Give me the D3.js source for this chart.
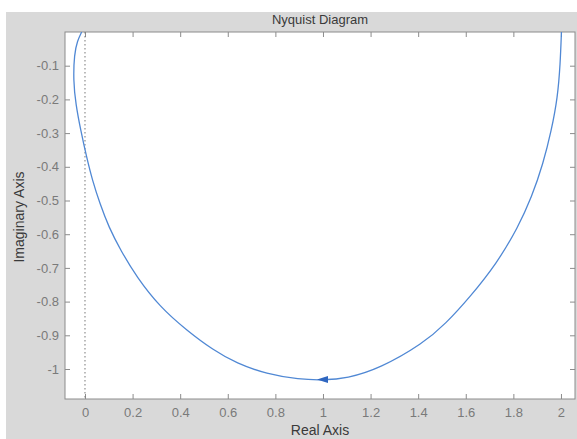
<!DOCTYPE html>
<html lang="en">

<head>
    <meta charset="utf-8">
    <title>Nyquist Diagram</title>
    <script src="https://cdn.jsdelivr.net/npm/d3@7/dist/d3.min.js"></script>
    <style>
        body {
            margin: 0;
            background: #fff;
        }

        text {
            font-family: "Liberation Sans", Arial, sans-serif;
        }
    </style>
</head>

<body>
    <div id="chart"></div>

    <script type="text/javascript">
        // curve, from (2, 0) round the bottom to the left side
        var realPart = [2.002, 1.997, 1.986, 1.96, 1.925, 1.877, 1.82, 1.73, 1.618, 1.515, 1.421, 1.24, 1.10, 1.0,
            0.9, 0.763, 0.637, 0.539, 0.427, 0.315, 0.217, 0.15, 0.1, 0.063, 0.031, 0.007, -0.018, -0.039,
            -0.049, -0.045, -0.032, -0.014];
        var imagPart = [0, -0.095, -0.194, -0.292, -0.391, -0.49, -0.579, -0.687, -0.786, -0.866, -0.924, -0.998,
            -1.028, -1.033, -1.031, -1.015, -0.983, -0.944, -0.885, -0.816, -0.727, -0.648, -0.579, -0.51,
            -0.44, -0.372, -0.292, -0.213, -0.144, -0.065, -0.026, 0];

        var xTicks = [0, 0.2, 0.4, 0.6, 0.8, 1, 1.2, 1.4, 1.6, 1.8, 2];
        var yTicks = [-0.1, -0.2, -0.3, -0.4, -0.5, -0.6, -0.7, -0.8, -0.9, -1];
        var arrowAt = [1.0, -1.031];

        var width = 577, height = 439;
        var plotLeft = 65, plotRight = 575, plotTop = 32, plotBottom = 399;
        var axisColor = '#8c8c8c';
        var labelColor = '#7a7a7a';
        var lineColor = '#5088d4';

        var svg = d3.select('#chart')
            .append('svg')
            .attr('width', width)
            .attr('height', height);

        // grey figure background
        svg.append('rect')
            .attr('x', 6).attr('y', 12)
            .attr('width', width - 6).attr('height', height - 12)
            .attr('fill', '#d9d9d9');

        svg.append('rect')
            .attr('x', plotLeft).attr('y', plotTop)
            .attr('width', plotRight - plotLeft).attr('height', plotBottom - plotTop)
            .attr('fill', '#fff');

        var xScale = d3.scaleLinear()
            .domain([-0.084, 2.059])
            .range([plotLeft, plotRight]);
        var yScale = d3.scaleLinear()
            .domain([-1.089, 0])
            .range([plotBottom, plotTop]);

        var fmt = function (d) { return String(d); };

        function styleAxis(g) {
            g.select('.domain').remove();
            g.selectAll('.tick line').attr('stroke', axisColor);
            g.selectAll('.tick text')
                .attr('fill', labelColor)
                .style('font-size', '13px');
        }

        svg.append('g')
            .attr('transform', 'translate(0,' + plotBottom + ')')
            .call(d3.axisBottom(xScale).tickValues(xTicks).tickSizeInner(-5).tickSizeOuter(0).tickPadding(9).tickFormat(fmt))
            .call(styleAxis);
        svg.append('g')
            .attr('transform', 'translate(0,' + plotTop + ')')
            .call(d3.axisTop(xScale).tickValues(xTicks).tickSizeInner(-5).tickSizeOuter(0).tickFormat(''))
            .call(styleAxis);
        svg.append('g')
            .attr('transform', 'translate(' + plotLeft + ',0)')
            .call(d3.axisLeft(yScale).tickValues(yTicks).tickSizeInner(-5).tickSizeOuter(0).tickPadding(6).tickFormat(fmt))
            .call(styleAxis);
        svg.append('g')
            .attr('transform', 'translate(' + plotRight + ',0)')
            .call(d3.axisRight(yScale).tickValues(yTicks).tickSizeInner(-5).tickSizeOuter(0).tickFormat(''))
            .call(styleAxis);

        // box
        svg.append('rect')
            .attr('x', plotLeft).attr('y', plotTop)
            .attr('width', plotRight - plotLeft).attr('height', plotBottom - plotTop)
            .attr('fill', 'none')
            .attr('stroke', axisColor);

        svg.append('clipPath').attr('id', 'plotClip')
            .append('rect')
            .attr('x', plotLeft).attr('y', plotTop)
            .attr('width', plotRight - plotLeft).attr('height', plotBottom - plotTop);

        var plot = svg.append('g').attr('clip-path', 'url(#plotClip)');

        // dotted line at real = 0
        plot.append('line')
            .attr('x1', xScale(0)).attr('x2', xScale(0))
            .attr('y1', plotTop).attr('y2', plotBottom)
            .attr('stroke', '#777')
            .attr('stroke-dasharray', '1.5,2.5');

        var points = realPart.map(function (r, i) { return [r, imagPart[i]]; });

        var line = d3.line()
            .x(function (d) { return xScale(d[0]); })
            .y(function (d) { return yScale(d[1]); })
            .curve(d3.curveBasis);

        plot.append('path')
            .datum(points)
            .attr('d', line)
            .attr('fill', 'none')
            .attr('stroke', lineColor)
            .attr('stroke-width', 1.3);

        // direction arrow, pointing left
        var ax = xScale(arrowAt[0]), ay = yScale(arrowAt[1]);
        plot.append('path')
            .attr('d', 'M' + (ax - 6) + ',' + ay + 'L' + (ax + 5) + ',' + (ay - 3.5) + 'L' + (ax + 5) + ',' + (ay + 3.5) + 'Z')
            .attr('fill', '#2f66c0');

        svg.append('text')
            .attr('x', 320).attr('y', 24)
            .attr('text-anchor', 'middle')
            .attr('fill', '#3a3a3a')
            .style('font-size', '13px')
            .text('Nyquist Diagram');

        svg.append('text')
            .attr('x', 320).attr('y', 435)
            .attr('text-anchor', 'middle')
            .attr('fill', '#3a3a3a')
            .style('font-size', '14px')
            .text('Real Axis');

        svg.append('text')
            .attr('transform', 'translate(24,217) rotate(-90)')
            .attr('text-anchor', 'middle')
            .attr('fill', '#3a3a3a')
            .style('font-size', '14px')
            .text('Imaginary Axis');
    </script>
</body>

</html>
